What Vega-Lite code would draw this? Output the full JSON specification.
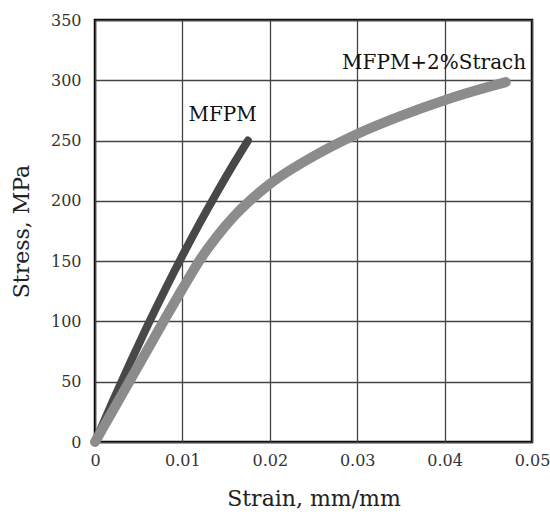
{
  "$schema": "https://vega.github.io/schema/vega-lite/v6.json",
  "autosize": {"type": "none"},
  "padding": {"left": 95, "top": 20, "right": 18, "bottom": 75},
  "width": 437,
  "height": 422,
  "config": {
    "view": {"stroke": "#000", "strokeWidth": 2.5},
    "font": "DejaVu Serif"
  },
  "datasets": {
    "curves": [
      {"curve": "MFPM", "strain": 0, "stress": 0},
      {"curve": "MFPM", "strain": 0.002, "stress": 33.4},
      {"curve": "MFPM", "strain": 0.004, "stress": 65.5},
      {"curve": "MFPM", "strain": 0.006, "stress": 96.4},
      {"curve": "MFPM", "strain": 0.008, "stress": 126.1},
      {"curve": "MFPM", "strain": 0.010, "stress": 154.5},
      {"curve": "MFPM", "strain": 0.012, "stress": 181.7},
      {"curve": "MFPM", "strain": 0.014, "stress": 207.6},
      {"curve": "MFPM", "strain": 0.016, "stress": 232.3},
      {"curve": "MFPM", "strain": 0.0175, "stress": 250.0},
      {"curve": "MFPM+2%Strach", "strain": 0, "stress": 0},
      {"curve": "MFPM+2%Strach", "strain": 0.002, "stress": 25.5},
      {"curve": "MFPM+2%Strach", "strain": 0.004, "stress": 51},
      {"curve": "MFPM+2%Strach", "strain": 0.006, "stress": 76.5},
      {"curve": "MFPM+2%Strach", "strain": 0.008, "stress": 102},
      {"curve": "MFPM+2%Strach", "strain": 0.010, "stress": 127},
      {"curve": "MFPM+2%Strach", "strain": 0.012, "stress": 151},
      {"curve": "MFPM+2%Strach", "strain": 0.014, "stress": 171},
      {"curve": "MFPM+2%Strach", "strain": 0.016, "stress": 188},
      {"curve": "MFPM+2%Strach", "strain": 0.018, "stress": 202},
      {"curve": "MFPM+2%Strach", "strain": 0.020, "stress": 214},
      {"curve": "MFPM+2%Strach", "strain": 0.025, "stress": 237},
      {"curve": "MFPM+2%Strach", "strain": 0.030, "stress": 255.5},
      {"curve": "MFPM+2%Strach", "strain": 0.035, "stress": 270.5},
      {"curve": "MFPM+2%Strach", "strain": 0.040, "stress": 283.5},
      {"curve": "MFPM+2%Strach", "strain": 0.045, "stress": 294.5},
      {"curve": "MFPM+2%Strach", "strain": 0.047, "stress": 298.5}
    ],
    "labels": [
      {"label": "MFPM", "strain": 0.0146, "stress": 271},
      {"label": "MFPM+2%Strach", "strain": 0.0388, "stress": 314}
    ]
  },
  "encoding": {
    "x": {
      "field": "strain", "type": "quantitative",
      "scale": {"domain": [0, 0.05], "nice": false},
      "axis": {
        "title": "Strain, mm/mm",
        "values": [0, 0.01, 0.02, 0.03, 0.04, 0.05],
        "format": ".2~f",
        "grid": true, "gridColor": "#444", "gridWidth": 1.3, "gridOpacity": 1,
        "domain": false, "ticks": false,
        "labelFont": "DejaVu Serif", "labelFontSize": 16, "labelColor": "#333",
        "labelPadding": 10, "labelFlush": false, "labelOverlap": false,
        "titleFont": "DejaVu Serif", "titleFontSize": 22, "titleFontWeight": "normal", "titleColor": "#222",
        "titlePadding": 20
      }
    },
    "y": {
      "field": "stress", "type": "quantitative",
      "scale": {"domain": [0, 350], "nice": false},
      "axis": {
        "title": "Stress, MPa",
        "values": [0, 50, 100, 150, 200, 250, 300, 350],
        "grid": true, "gridColor": "#444", "gridWidth": 1.3, "gridOpacity": 1,
        "domain": false, "ticks": false,
        "labelFont": "DejaVu Serif", "labelFontSize": 16, "labelColor": "#333",
        "labelPadding": 14, "labelFlush": false, "labelOverlap": false,
        "titleFont": "DejaVu Serif", "titleFontSize": 22, "titleFontWeight": "normal", "titleColor": "#222",
        "titlePadding": 17
      }
    }
  },
  "layer": [
    {
      "data": {"name": "curves"},
      "transform": [{"filter": "datum.curve === 'MFPM'"}],
      "mark": {"type": "line", "strokeWidth": 8, "strokeCap": "round", "interpolate": "monotone", "color": "#484848", "clip": false},
      "encoding": {"order": {"field": "strain", "type": "quantitative"}}
    },
    {
      "data": {"name": "curves"},
      "transform": [{"filter": "datum.curve !== 'MFPM'"}],
      "mark": {"type": "line", "strokeWidth": 10, "strokeCap": "round", "interpolate": "monotone", "color": "#8c8c8c", "clip": false},
      "encoding": {"order": {"field": "strain", "type": "quantitative"}}
    },
    {
      "data": {"name": "labels"},
      "mark": {"type": "text", "font": "DejaVu Serif", "fontSize": 20, "color": "#111", "align": "center", "baseline": "middle"},
      "encoding": {"text": {"field": "label"}}
    }
  ]
}
